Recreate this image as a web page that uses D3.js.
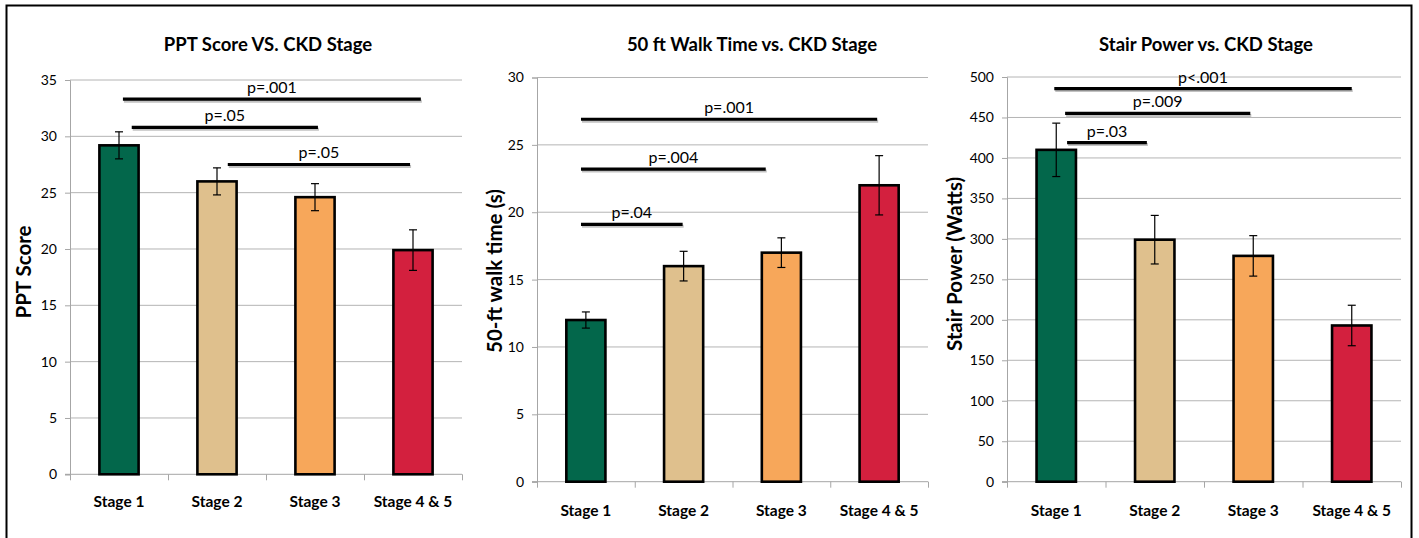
<!DOCTYPE html>
<html>
<head>
<meta charset="utf-8">
<script src="https://cdn.jsdelivr.net/npm/d3@7"></script>
<style>
body{margin:0;background:#fff;}
svg text{font-family:Lato,"Open Sans",sans-serif;fill:#000;}
</style>
</head>
<body>
<div id="container"></div>
<script>
// categories
var stages = ['Stage 1','Stage 2','Stage 3','Stage 4 & 5'];
var barColors = ['#03674b','#dfc08d','#f7a75a','#d3203e'];

// PPT score
var pptMean = [29.2, 26.0, 24.6, 19.9];
var pptErr  = [1.2, 1.2, 1.2, 1.8];
// significance bars: from/to are category positions, y in data units
var pptSig = [
	{from:0.04, to:3.08, y:33.3, label:'p=.001'},
	{from:0.13, to:2.03, y:30.8, label:'p=.05'},
	{from:1.11, to:2.97, y:27.5, label:'p=.05'}
];

// 50 ft walk time
var walkMean = [12.0, 16.0, 17.0, 22.0];
var walkErr  = [0.6, 1.1, 1.1, 2.2];
var walkSig = [
	{from:-0.05, to:2.98, y:26.9, label:'p=.001'},
	{from:-0.05, to:1.84, y:23.2, label:'p=.004'},
	{from:-0.05, to:0.99, y:19.1, label:'p=.04'}
];

// stair power
var stairMean = [410, 299, 279, 193];
var stairErr  = [33, 30, 25, 25];
var stairSig = [
	{from:-0.02, to:3.0, y:485.7, label:'p<.001'},
	{from:0.09, to:1.97, y:455, label:'p=.009'},
	{from:0.11, to:0.92, y:419, label:'p=.03'}
];

var panels = [
	{title:'PPT Score VS. CKD Stage', ylabel:'PPT Score', mean:pptMean, err:pptErr, sig:pptSig,
	 ymax:35, step:5, left:70, right:462, bottom:474.3, top:80, titleX:268, ylabelX:24, ylabelY:272, xlabelY:507},
	{title:'50 ft Walk Time vs. CKD Stage', ylabel:'50-ft walk time (s)', mean:walkMean, err:walkErr, sig:walkSig,
	 ymax:30, step:5, left:537, right:928, bottom:481.7, top:77.5, titleX:752, ylabelX:495, ylabelY:271, xlabelY:516},
	{title:'Stair Power vs. CKD Stage', ylabel:'Stair Power (Watts)', mean:stairMean, err:stairErr, sig:stairSig,
	 ymax:500, step:50, left:1007, right:1401, bottom:481.7, top:77, titleX:1206, ylabelX:955, ylabelY:264, xlabelY:516}
];

var W = 1419, H = 538;
var svg = d3.select('#container').append('svg')
	.attr('width',W).attr('height',H);

// outer frame
svg.append('rect')
	.attr('x',6.5).attr('y',5.5)
	.attr('width',1405).attr('height',600)
	.attr('fill','none').attr('stroke','#000').attr('stroke-width',2);

panels.forEach(function(p){
	var g = svg.append('g');

	var x = d3.scaleBand().domain(stages).range([p.left,p.right])
		.paddingInner(0.6).paddingOuter(0.3);
	var slot = d3.scaleLinear().domain([0,stages.length]).range([p.left,p.right]);
	var y = d3.scaleLinear().domain([0,p.ymax]).range([p.bottom,p.top]);
	var yTicks = d3.range(0,p.ymax+p.step/2,p.step);
	// category position -> pixel (band centers)
	var cx = function(v){ return slot(v+0.5); };

	// gridlines
	g.selectAll('line.grid').data(yTicks.slice(1)).enter().append('line')
		.attr('class','grid')
		.attr('x1',p.left).attr('x2',p.right)
		.attr('y1',function(d){ return y(d); }).attr('y2',function(d){ return y(d); })
		.attr('stroke','#b4b4b4').attr('stroke-width',1);

	// y axis
	var ya = g.append('g').attr('transform','translate('+p.left+',0)')
		.call(d3.axisLeft(y).tickValues(yTicks).tickSize(5).tickPadding(8));
	ya.select('.domain').attr('stroke','#a6a6a6');
	ya.selectAll('.tick line').attr('stroke','#a6a6a6');
	ya.selectAll('.tick text').style('font-size','14px').style('font-family','Lato');

	// x axis ticks at slot boundaries
	var xa = g.append('g').attr('transform','translate(0,'+p.bottom+')')
		.call(d3.axisBottom(slot).tickValues(d3.range(0,stages.length+1)).tickSize(6).tickFormat(''));
	xa.select('.domain').attr('stroke','#a6a6a6').attr('d','M'+(p.left-5)+',0H'+p.right);
	xa.selectAll('.tick line').attr('stroke','#a6a6a6');

	// x labels
	g.selectAll('text.xl').data(stages).enter().append('text')
		.attr('class','xl')
		.attr('x',function(d){ return x(d)+x.bandwidth()/2; })
		.attr('y',p.xlabelY)
		.attr('text-anchor','middle')
		.style('font-size','15.5px').style('font-weight','bold')
		.text(function(d){ return d; });

	// bars
	g.selectAll('rect.bar').data(p.mean).enter().append('rect')
		.attr('class','bar')
		.attr('x',function(d,i){ return x(stages[i]); })
		.attr('y',function(d){ return y(d); })
		.attr('width',x.bandwidth())
		.attr('height',function(d){ return p.bottom-y(d); })
		.attr('fill',function(d,i){ return barColors[i]; })
		.attr('stroke','#000').attr('stroke-width',2.6);

	// error bars
	var eb = g.selectAll('g.err').data(p.mean).enter().append('g').attr('class','err');
	eb.append('line')
		.attr('x1',function(d,i){ return cx(i); }).attr('x2',function(d,i){ return cx(i); })
		.attr('y1',function(d,i){ return y(d+p.err[i]); })
		.attr('y2',function(d,i){ return y(d-p.err[i]); });
	eb.append('line')
		.attr('x1',function(d,i){ return cx(i)-4; }).attr('x2',function(d,i){ return cx(i)+4; })
		.attr('y1',function(d,i){ return y(d+p.err[i]); })
		.attr('y2',function(d,i){ return y(d+p.err[i]); });
	eb.append('line')
		.attr('x1',function(d,i){ return cx(i)-4; }).attr('x2',function(d,i){ return cx(i)+4; })
		.attr('y1',function(d,i){ return y(d-p.err[i]); })
		.attr('y2',function(d,i){ return y(d-p.err[i]); });
	eb.selectAll('line').attr('stroke','#000').attr('stroke-width',1.2);

	// significance lines with soft shadow
	var sg = g.selectAll('g.sig').data(p.sig).enter().append('g').attr('class','sig');
	sg.append('line')
		.attr('x1',function(d){ return cx(d.from)+1; }).attr('x2',function(d){ return cx(d.to)+1; })
		.attr('y1',function(d){ return y(d.y)+2; }).attr('y2',function(d){ return y(d.y)+2; })
		.attr('stroke','#777').attr('stroke-opacity',0.45).attr('stroke-width',3);
	sg.append('line')
		.attr('x1',function(d){ return cx(d.from); }).attr('x2',function(d){ return cx(d.to); })
		.attr('y1',function(d){ return y(d.y); }).attr('y2',function(d){ return y(d.y); })
		.attr('stroke','#000').attr('stroke-width',3.2);
	sg.append('text')
		.attr('x',function(d){ return (cx(d.from)+cx(d.to))/2; })
		.attr('y',function(d){ return y(d.y)-6; })
		.attr('text-anchor','middle')
		.style('font-size','16px')
		.text(function(d){ return d.label; });

	// title
	g.append('text')
		.attr('x',p.titleX).attr('y',51)
		.attr('text-anchor','middle')
		.style('font-size','18.5px').style('font-weight','bold')
		.text(p.title);

	// y label
	g.append('text')
		.attr('transform','translate('+(p.ylabelX+7)+','+p.ylabelY+') rotate(-90)')
		.attr('text-anchor','middle')
		.style('font-size','20.5px').style('font-weight','bold')
		.text(p.ylabel);
});
</script>
</body>
</html>
